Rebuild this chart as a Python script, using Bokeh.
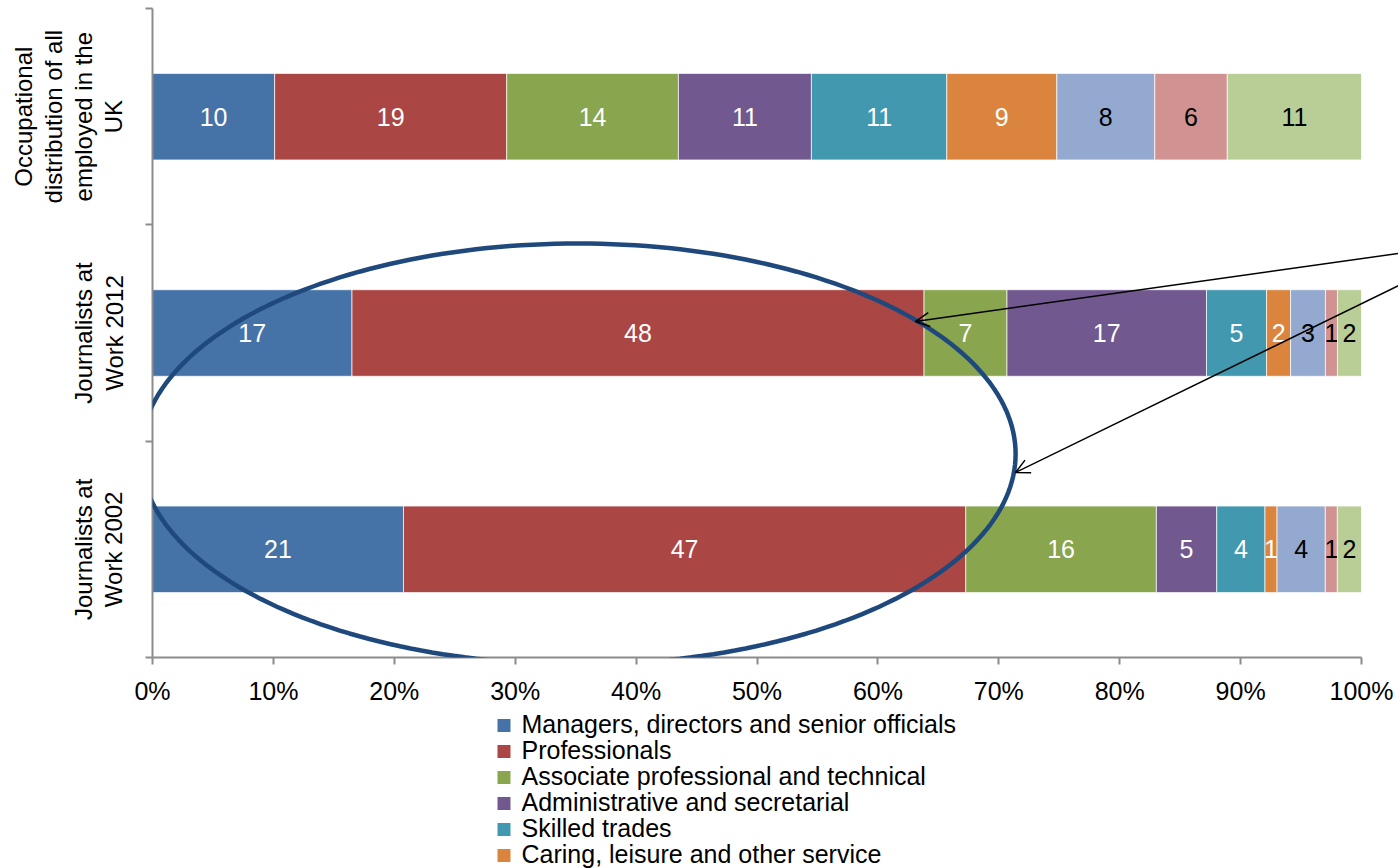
import math
from bokeh.plotting import figure
from bokeh.layouts import column
from bokeh.models import (Range1d, FixedTicker, NumeralTickFormatter,
                          ColumnDataSource, PolyAnnotation, Arrow, OpenHead)
from bokeh.core.properties import value
from bokeh.embed import file_html
from bokeh.resources import INLINE

FONT = "Liberation Sans"

# Categories, top to bottom as shown
categories = [
    "Occupational\ndistribution of all\nemployed in the\nUK",
    "Journalists at\nWork 2012",
    "Journalists at\nWork 2002",
]

series = [
    "Managers, directors and senior officials",
    "Professionals",
    "Associate professional and technical",
    "Administrative and secretarial",
    "Skilled trades",
    "Caring, leisure and other service",
    "Sales and customer service",
    "Process, plant and machine operatives",
    "Elementary occupations",
]

colors = ["#4572A7", "#AA4643", "#89A54E", "#71588F", "#4198AF",
          "#DB843D", "#93A9CF", "#D19392", "#B9CD96"]
label_colors = ["white"] * 6 + ["black"] * 3

# values per category (percent), in series order
uk_all = [10.1, 19.2, 14.2, 11.0, 11.2, 9.1, 8.1, 6.0, 11.1]
jaw_2012 = [16.6, 47.6, 6.9, 16.6, 5.0, 2.0, 2.9, 1.0, 2.0]
jaw_2002 = [20.8, 46.6, 15.8, 5.0, 4.0, 1.0, 4.0, 1.0, 2.0]
rows = [uk_all, jaw_2012, jaw_2002]

x_ticks = [i / 10 for i in range(11)]

n = len(categories)
ypos = [n - i - 0.5 for i in range(n)]
boundaries = [float(i) for i in range(n + 1)]

p = figure(width=1398, height=710, x_range=Range1d(0, 1.0306), y_range=Range1d(0, n),
           output_backend="svg", toolbar_location=None,
           min_border_left=152, min_border_right=0, min_border_top=8, min_border_bottom=53)
p.outline_line_color = None
p.xgrid.visible = False
p.ygrid.visible = False
p.background_fill_color = "white"

# normalize to 100%
totals = [sum(r) for r in rows]
cum = [0.0] * n
for j, name in enumerate(series):
    lefts, rights, xs, labels = [], [], [], []
    for i in range(n):
        w = rows[i][j] / totals[i]
        lefts.append(cum[i])
        rights.append(cum[i] + w)
        xs.append(cum[i] + w / 2)
        labels.append(str(int(round(rows[i][j]))))
        cum[i] += w
    src = ColumnDataSource(dict(y=ypos, left=lefts, right=rights, x=xs, label=labels))
    p.hbar(y="y", left="left", right="right", height=0.4, source=src,
           fill_color=colors[j], line_color="white", line_width=1, line_alpha=0.7)
    p.text(x="x", y="y", text="label", source=src, text_color=label_colors[j],
           text_align="center", text_baseline="middle",
           text_font=value(FONT), text_font_size="25px")

# x axis
xa = p.xaxis[0]
xa.ticker = FixedTicker(ticks=x_ticks)
xa.bounds = (0, 1)
xa.formatter = NumeralTickFormatter(format="0%")
xa.axis_line_color = "#8C8C8C"
xa.axis_line_width = 2
xa.major_tick_line_color = "#8C8C8C"
xa.major_tick_line_width = 2
xa.major_tick_out = 7
xa.major_tick_in = 0
xa.minor_tick_line_color = None
xa.major_label_standoff = 12
xa.major_label_text_font = FONT
xa.major_label_text_font_size = "25px"
xa.major_label_text_color = "black"

# y axis
ya = p.yaxis[0]
ya.ticker = FixedTicker(ticks=ypos, minor_ticks=boundaries)
ya.major_label_overrides = {ypos[i]: categories[i] for i in range(n)}
ya.major_label_orientation = "vertical"
ya.axis_line_color = "#8C8C8C"
ya.axis_line_width = 2
ya.major_tick_line_color = None
ya.major_tick_out = 0
ya.major_tick_in = 0
ya.minor_tick_line_color = "#8C8C8C"
ya.minor_tick_line_width = 2
ya.minor_tick_out = 7
ya.minor_tick_in = 0
ya.major_label_standoff = 18
ya.major_label_text_font = FONT
ya.major_label_text_font_size = "24px"
ya.major_label_text_color = "black"
ya.major_label_text_line_height = 1.12

# ellipse annotation
cx, cy, ax_, by_ = 0.352, 0.9407, 0.3619, 0.973
ts = [2 * math.pi * k / 240 for k in range(241)]
ell = PolyAnnotation(xs=[cx + ax_ * math.cos(t) for t in ts],
                     ys=[cy + by_ * math.sin(t) for t in ts],
                     fill_alpha=0, line_color="#1F497D", line_alpha=1.0, line_width=4.5)
p.add_layout(ell)

# arrows
p.add_layout(Arrow(x_start=1.05, y_start=1.883, x_end=0.631, y_end=1.553,
                   line_color="black", line_width=1.5,
                   end=OpenHead(size=14, line_color="black", line_width=1.5)))
p.add_layout(Arrow(x_start=1.05, y_start=1.772, x_end=0.7138, y_end=0.855,
                   line_color="black", line_width=1.5,
                   end=OpenHead(size=14, line_color="black", line_width=1.5)))

# legend panel (only the first six entries fit in the visible area, as in the original)
shown = 6
pl = figure(width=1398, height=158, x_range=Range1d(0, 1246), y_range=Range1d(6.0, -0.077),
            x_axis_type=None, y_axis_type=None, output_backend="svg",
            toolbar_location=None, min_border_left=152, min_border_right=0,
            min_border_top=0, min_border_bottom=0)
pl.outline_line_color = None
pl.xgrid.visible = False
pl.ygrid.visible = False
leg_src = ColumnDataSource(dict(
    y=[k + 0.5 for k in range(shown)],
    sx=[351.5] * shown,
    tx=[369] * shown,
    label=series[:shown],
    color=colors[:shown],
))
pl.scatter(x="sx", y="y", marker="square", size=13, fill_color="color",
           line_color=None, source=leg_src)
pl.text(x="tx", y="y", text="label", source=leg_src, y_offset=-2,
        text_baseline="alphabetic", text_align="left", text_color="black",
        text_font=value(FONT), text_font_size="25px")

layout = column(p, pl, spacing=0)
open("out.html", "w").write(file_html(layout, INLINE))
